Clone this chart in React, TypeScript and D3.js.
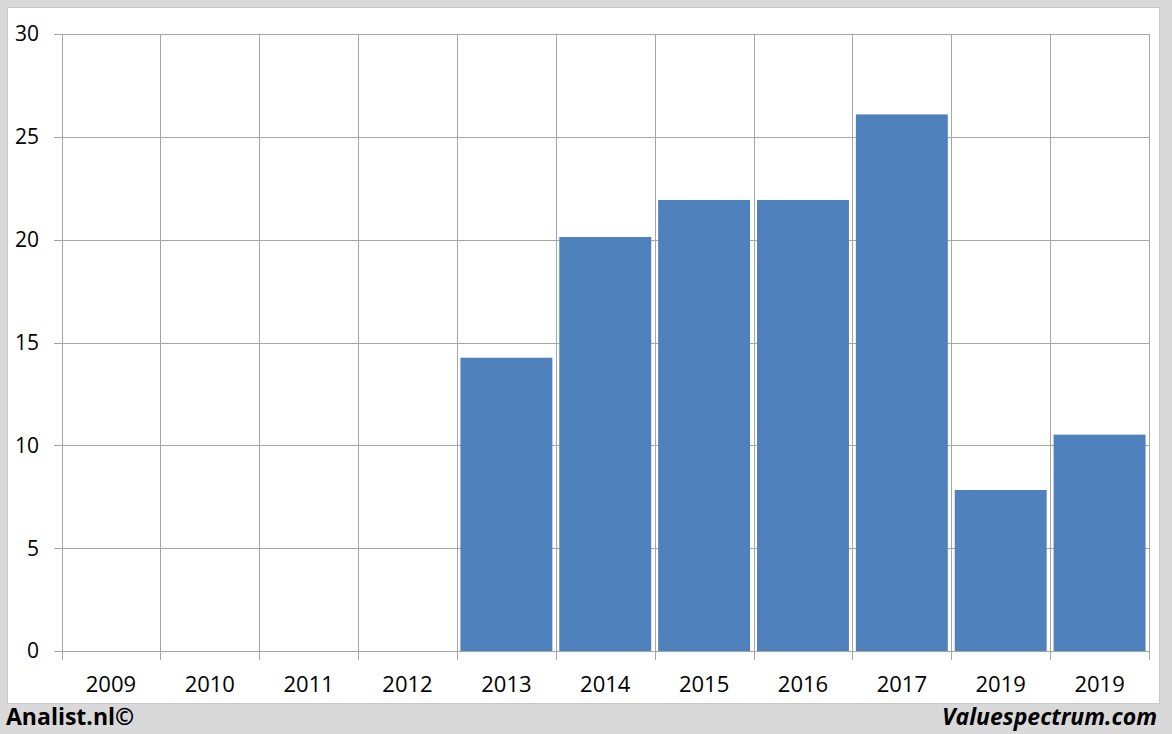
import React from "react";
import * as d3 from "d3";

const categories = ["2009", "2010", "2011", "2012", "2013", "2014", "2015", "2016", "2017", "2019", "2019"];
const values: (number | null)[] = [null, null, null, null, 14.26, 20.13, 21.93, 21.93, 26.09, 7.83, 10.52];
const yTicks = [0, 5, 10, 15, 20, 25, 30];

const W = 1172;
const H = 734;
const margin = { left: 61.5, right: 1149, top: 34, bottom: 651 };
const FONT = "'Open Sans', 'Noto Sans', sans-serif";

export default function App() {
  const idx = categories.map((_, i) => i);
  const x = d3.scaleBand<number>().domain(idx).range([margin.left, margin.right]).paddingInner(0.07).paddingOuter(0.035);
  const xb = d3.scaleLinear().domain([0, categories.length]).range([margin.left, margin.right]);
  const y = d3.scaleLinear().domain([0, 30]).range([margin.bottom, margin.top]);

  return (
    <svg width={W} height={H} style={{ position: "absolute", left: 0, top: 0 }}>
      <rect x={0} y={0} width={W} height={H} fill="#d9d9d9" />
      <rect x={7.5} y={7.5} width={1152} height={696} fill="#ffffff" stroke="#c8c8c8" strokeWidth={1} />
      {yTicks.map((t) => (
        <g key={"h" + t}>
          <line x1={54} x2={margin.right} y1={Math.round(y(t)) + 0.5} y2={Math.round(y(t)) + 0.5} stroke="#a6a6a6" strokeWidth={1} />
          <text x={39} y={y(t)} dy="0.35em" textAnchor="end" fontFamily={FONT} fontSize={21} fill="#000">{t}</text>
        </g>
      ))}
      {d3.range(categories.length + 1).map((i) => (
        <line key={"v" + i} x1={Math.round(xb(i)) + 0.5} x2={Math.round(xb(i)) + 0.5} y1={margin.top} y2={660} stroke="#a6a6a6" strokeWidth={1} />
      ))}
      {values.map((v, i) =>
        v == null ? null : (
          <rect key={"b" + i} x={x(i)} y={y(v)} width={x.bandwidth()} height={y(0) - y(v)} fill="#4f81bd" />
        )
      )}
      {categories.map((c, i) => (
        <text key={"x" + i} x={(x(i) as number) + x.bandwidth() / 2} y={692} textAnchor="middle" fontFamily={FONT} fontSize={22} fill="#000">{c}</text>
      ))}
      <text x={6} y={725} fontFamily={FONT} fontSize={23} fontWeight="bold" fill="#000">Analist.nl©</text>
      <text x={1157} y={725} textAnchor="end" fontFamily={FONT} fontSize={23} fontWeight="bold" fontStyle="italic" fill="#000">Valuespectrum.com</text>
    </svg>
  );
}
